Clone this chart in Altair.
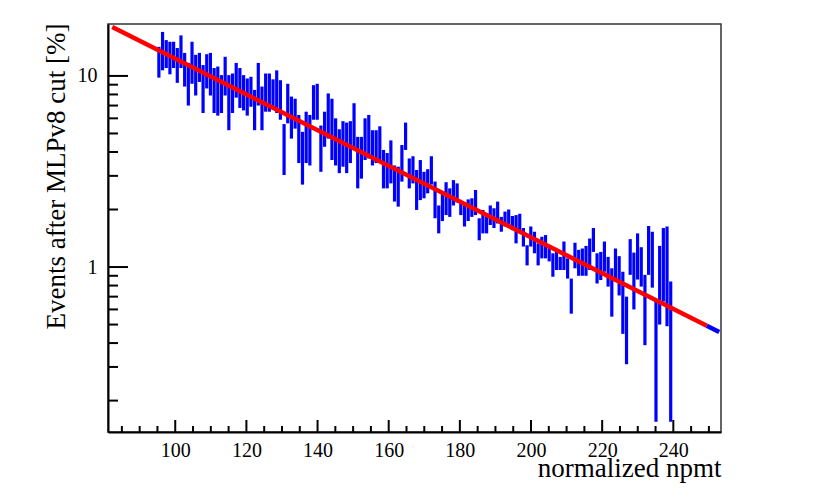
import altair as alt
import pandas as pd

# ---- data ----
bin_start = 95.4
bin_step = 1.035

hi_vals = [
    14.2, 17.0, 15.4, 15.1, 15.1, 14.0, 16.3, 13.2, 11.7, 15.1, 12.9, 13.2, 11.4, 13.0, 13.2, 11.0, 11.2, 10.1, 12.6, 10.1, 10.3, 11.7, 11.0,
    10.1, 9.7, 9.9, 8.45, 11.7, 8.8, 10.3, 10.3, 9.6, 10.7, 9.5, 5.6, 9.1, 7.8, 7.6, 6.25, 5.1, 6.5, 6.25, 8.95, 9.1, 5.5, 6.5, 8.1,
    7.6, 6.0, 5.26, 5.8, 5.7, 5.8, 7.2, 4.8, 4.8, 6.0, 6.25, 5.2, 5.2, 5.45, 4.1, 3.95, 4.6, 3.4, 3.35, 4.35, 5.7, 3.7, 3.8, 3.22,
    3.63, 3.15, 3.25, 3.8, 2.8, 2.1, 2.5, 2.78, 2.58, 2.85, 2.74, 2.16, 2.1, 2.26, 2.29, 2.53, 1.8, 1.99, 1.83, 2.1, 2.03, 2.2, 1.83, 1.95,
    2.0, 1.85, 1.87, 1.9, 1.6, 1.3, 1.63, 1.53, 1.33, 1.44, 1.47, 1.3, 1.18, 1.2, 1.13, 1.36, 1.11, 0.87, 1.34, 1.23, 1.25, 1.29, 1.41, 1.6,
    1.18, 1.2, 1.36, 1.13, 0.985, 1.25, 1.14, 0.945, 0.7, 1.4, 1.19, 1.5, 1.27, 0.91, 1.64, 1.53, 0.672, 1.29, 1.6, 1.63, 0.84,
]
lo_vals = [
    9.8, 10.7, 11.0, 10.2, 11.0, 9.2, 11.0, 8.8, 7.0, 9.1, 7.9, 9.3, 6.4, 8.6, 7.9, 6.4, 6.2, 6.4, 7.9, 5.2, 6.4, 7.7, 6.8,
    6.6, 6.2, 6.9, 5.2, 7.0, 5.2, 6.5, 6.5, 6.9, 6.4, 5.9, 3.03, 5.65, 4.7, 5.3, 3.5, 2.7, 3.5, 3.4, 5.9, 5.9, 3.15, 4.26, 4.7,
    3.63, 3.4, 3.1, 3.35, 3.1, 3.5, 4.1, 2.58, 2.9, 3.63, 3.7, 3.4, 3.5, 3.63, 2.58, 2.58, 2.74, 2.2, 2.07, 2.8, 4.1, 2.58, 2.74, 1.99,
    2.24, 2.29, 2.43, 2.7, 1.8, 1.5, 1.74, 1.87, 1.83, 2.1, 2.18, 1.87, 1.63, 1.74, 1.83, 1.87, 1.38, 1.5, 1.5, 1.66, 1.6, 1.69, 1.53, 1.63,
    1.6, 1.56, 1.33, 1.53, 1.28, 1.02, 1.28, 1.18, 1.02, 1.11, 1.11, 1.07, 0.89, 0.965, 0.965, 0.965, 0.87, 0.57, 0.985, 0.9, 0.9, 0.9, 0.965, 1.2,
    0.82, 0.855, 0.945, 0.79, 0.55, 0.84, 0.71, 0.447, 0.31, 0.91, 0.6, 0.86, 0.79, 0.39, 0.91, 0.78, 0.155, 0.5, 0.66, 0.49, 0.155,
]

fit_x = [82.3, 249.4]
fit_y = [18.05, 0.493]
ext_x = [249.4, 252.9]
ext_y = [0.493, 0.457]

x_domain = [81.1, 253.4]
y_domain = [0.137, 18.7]

x_major = [100, 120, 140, 160, 180, 200, 220, 240]
x_minor = [85, 90, 95, 105, 110, 115, 125, 130, 135, 145, 150, 155, 165, 170, 175,
           185, 190, 195, 205, 210, 215, 225, 230, 235, 245, 250]
y_major = [1, 10]
y_minor = [0.2, 0.3, 0.4, 0.5, 0.6, 0.7, 0.8, 0.9, 2, 3, 4, 5, 6, 7, 8, 9]

W, H = 613, 408
FONT = "'Liberation Serif', 'Times New Roman', 'DejaVu Serif', serif"

n = min(len(hi_vals), len(lo_vals))
df = pd.DataFrame({
    "x": [bin_start + i * bin_step for i in range(n)],
    "lo": lo_vals[:n],
    "hi": hi_vals[:n],
})

xs = alt.Scale(domain=x_domain, nice=False, zero=False)
ys = alt.Scale(type="log", domain=y_domain, nice=False)

x_axis = alt.Axis(
    title="normalized npmt", values=x_major, ticks=False, grid=False,
    domainColor="black", domainWidth=2, labelFont=FONT, labelFontSize=20,
    labelColor="black", labelPadding=8, labelFlush=False,
    titleFont=FONT, titleFontSize=27, titleFontWeight="normal", titleColor="black",
    titleAnchor="end", titleAlign="right", titleX=W, titleY=44,
    titleBaseline="alphabetic")
y_axis = alt.Axis(
    title="Events after MLPv8 cut [%]", values=y_major, format="~g", ticks=False,
    grid=False, domainColor="black", domainWidth=2, labelFont=FONT,
    labelFontSize=20, labelColor="black", labelPadding=11, labelFlush=False,
    titleFont=FONT, titleFontSize=27, titleFontWeight="normal", titleColor="black",
    titleAngle=-90, titleAlign="right", titleBaseline="middle",
    titleX=-52, titleY=-1)


def X(f):
    return alt.X(f, scale=xs, axis=x_axis)


def Y(f):
    return alt.Y(f, scale=ys, axis=y_axis)


bars = alt.Chart(df).mark_rule(color="#0000ff", strokeWidth=3.2).encode(
    x=X("x:Q"), y=Y("lo:Q"), y2="hi:Q")

ext = alt.Chart(pd.DataFrame({"x": ext_x, "y": ext_y})).mark_line(
    color="#0000ff", strokeWidth=4.5).encode(x=X("x:Q"), y=Y("y:Q"))

fit = alt.Chart(pd.DataFrame({"x": fit_x, "y": fit_y})).mark_line(
    color="#ff0000", strokeWidth=4.5).encode(x=X("x:Q"), y=Y("y:Q"))

xmaj = alt.Chart(pd.DataFrame({"v": x_major})).mark_rule(color="black", strokeWidth=2).encode(
    x=X("v:Q"), y=alt.value(H), y2=alt.value(H - 12))
xmin = alt.Chart(pd.DataFrame({"v": x_minor})).mark_rule(color="black", strokeWidth=2).encode(
    x=X("v:Q"), y=alt.value(H), y2=alt.value(H - 6))
ymaj = alt.Chart(pd.DataFrame({"v": y_major})).mark_rule(color="black", strokeWidth=2).encode(
    y=Y("v:Q"), x=alt.value(0), x2=alt.value(20))
ymin = alt.Chart(pd.DataFrame({"v": y_minor})).mark_rule(color="black", strokeWidth=2).encode(
    y=Y("v:Q"), x=alt.value(0), x2=alt.value(10))

chart = alt.layer(bars, ext, fit, xmaj, xmin, ymaj, ymin).properties(
    width=W, height=H,
    autosize=alt.AutoSizeParams(type="none"),
    padding={"left": 100, "top": 16, "right": 30, "bottom": 55},
    background="white",
).configure_view(stroke="#333333", strokeWidth=1.5)

chart.save("out.html", embed_options={"renderer": "svg", "actions": False})
